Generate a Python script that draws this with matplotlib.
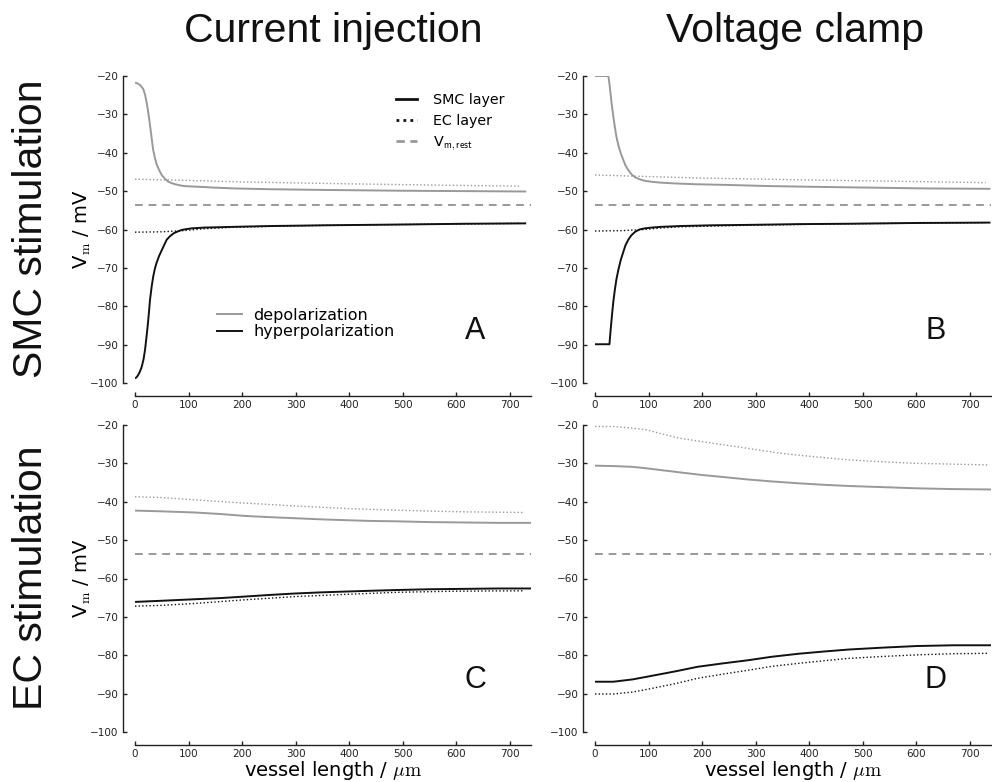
import matplotlib
matplotlib.use("Agg")
import matplotlib.pyplot as plt
from matplotlib.lines import Line2D

plt.rcParams['font.family'] = ['DejaVu Sans']
plt.rcParams['mathtext.fontset'] = 'cm'
plt.rcParams['axes.unicode_minus'] = True

GREY = '#999999'
BLACK = '#111111'
V_REST = -53.6

# ---------------- Panel A : SMC stimulation, current injection ----------------
a_smc_dep_x = [0, 4, 9, 13, 16, 19, 22, 24, 26, 28, 30, 32, 34, 37, 40, 45, 50, 56, 62, 68, 75, 84, 93, 108, 124, 150, 187, 250, 358, 500, 620, 731]
a_smc_dep_y = [-21.7, -21.9, -22.3, -22.9, -23.6, -25.0, -27.1, -28.8, -30.6, -32.8, -34.9, -37.2, -39.3, -41.2, -42.8, -44.5, -45.8, -46.8, -47.5, -47.9, -48.2, -48.5, -48.7, -48.8, -48.9, -49.1, -49.3, -49.5, -49.7, -49.9, -50.0, -50.1]
a_ec_dep_x = [0, 100, 200, 400, 600, 718]
a_ec_dep_y = [-46.9, -47.2, -47.6, -48.1, -48.5, -48.7]
a_smc_hyp_x = [0, 3, 6, 9, 12.5, 16, 18.7, 21, 23.6, 26, 28, 31, 34, 37, 40, 45, 50, 55, 59, 65, 72, 80, 87.5, 96, 106, 130, 187, 250, 358, 500, 620, 731]
a_smc_hyp_y = [-98.8, -98.5, -97.9, -97.1, -95.8, -93.8, -91.4, -88.6, -85.3, -81.7, -78.4, -75.0, -72.3, -70.3, -68.8, -66.9, -65.4, -63.9, -62.7, -61.8, -61.0, -60.5, -60.1, -59.9, -59.7, -59.5, -59.3, -59.1, -58.9, -58.7, -58.5, -58.4]
a_ec_hyp_x = [0, 50, 90, 130, 187, 250, 358, 500, 718]
a_ec_hyp_y = [-60.7, -60.6, -60.3, -59.8, -59.4, -59.2, -58.9, -58.7, -58.4]

# ---------------- Panel B : SMC stimulation, voltage clamp ----------------
b_smc_dep_x = [0, 25, 27, 29, 31, 34, 37, 40, 43.5, 48, 53, 57, 62, 68, 75, 83, 93, 108, 124, 150, 187, 250, 330, 420, 520, 620, 739]
b_smc_dep_y = [-20.0, -20.0, -22.0, -24.6, -27.1, -30.3, -33.2, -35.8, -38.0, -40.1, -41.9, -43.3, -44.5, -45.6, -46.4, -46.9, -47.3, -47.6, -47.8, -48.0, -48.2, -48.4, -48.7, -48.9, -49.1, -49.3, -49.4]
b_ec_dep_x = [0, 100, 200, 400, 600, 730]
b_ec_dep_y = [-45.8, -46.2, -46.6, -47.1, -47.5, -47.8]
b_smc_hyp_x = [0, 27, 29, 32, 34.5, 37, 40, 43.5, 48, 53, 57, 62, 68, 75, 83, 93, 106, 124, 159, 220, 285, 380, 474, 600, 739]
b_smc_hyp_y = [-89.9, -89.9, -86.5, -81.9, -78.5, -75.8, -73.0, -70.6, -68.0, -65.8, -64.1, -62.7, -61.5, -60.6, -60.0, -59.7, -59.5, -59.3, -59.1, -58.9, -58.8, -58.6, -58.5, -58.3, -58.2]
b_ec_hyp_x = [0, 50, 93, 124, 159, 285, 474, 730]
b_ec_hyp_y = [-60.4, -60.3, -60.0, -59.6, -59.3, -58.9, -58.5, -58.2]

# ---------------- Panel C : EC stimulation, current injection ----------------
c_smc_dep_x = [0, 50, 112, 160, 206, 250, 300, 350, 394, 440, 489, 550, 615, 680, 741]
c_smc_dep_y = [-42.3, -42.5, -42.8, -43.2, -43.7, -44.0, -44.3, -44.6, -44.8, -45.0, -45.1, -45.3, -45.4, -45.5, -45.5]
c_ec_dep_x = [0, 50, 112, 200, 300, 400, 489, 600, 728]
c_ec_dep_y = [-38.7, -38.9, -39.5, -40.3, -41.1, -41.8, -42.2, -42.6, -42.8]
c_smc_hyp_x = [0, 50, 112, 160, 206, 250, 300, 350, 394, 440, 489, 550, 615, 680, 741]
c_smc_hyp_y = [-66.1, -65.8, -65.4, -65.1, -64.7, -64.3, -63.9, -63.6, -63.4, -63.2, -63.0, -62.8, -62.7, -62.6, -62.6]
c_ec_hyp_x = [0, 50, 112, 200, 300, 400, 489, 600, 728]
c_ec_hyp_y = [-67.2, -67.0, -66.5, -65.6, -64.7, -64.1, -63.6, -63.3, -63.2]

# ---------------- Panel D : EC stimulation, voltage clamp ----------------
d_smc_dep_x = [0, 34, 70, 97, 150, 198, 250, 286, 330, 381, 430, 475, 540, 601, 670, 740]
d_smc_dep_y = [-30.6, -30.7, -30.9, -31.3, -32.2, -33.0, -33.7, -34.2, -34.7, -35.2, -35.6, -35.9, -36.2, -36.5, -36.7, -36.8]
d_ec_dep_x = [0, 34, 70, 97, 130, 160, 223, 286, 349, 412, 475, 538, 601, 670, 734]
d_ec_dep_y = [-20.4, -20.4, -20.8, -21.3, -22.5, -23.5, -24.8, -26.1, -27.4, -28.3, -29.1, -29.6, -30.0, -30.2, -30.4]
d_smc_hyp_x = [0, 34, 70, 97, 150, 192, 240, 286, 330, 381, 430, 475, 540, 601, 670, 740]
d_smc_hyp_y = [-86.9, -86.9, -86.3, -85.6, -84.2, -83.0, -82.1, -81.3, -80.4, -79.6, -79.0, -78.5, -78.0, -77.6, -77.4, -77.4]
d_ec_hyp_x = [0, 34, 70, 97, 150, 192, 240, 286, 330, 381, 430, 475, 540, 601, 670, 734]
d_ec_hyp_y = [-90.1, -90.1, -89.6, -88.9, -87.4, -86.0, -84.9, -83.9, -82.9, -82.1, -81.4, -80.8, -80.3, -79.9, -79.6, -79.5]

col_titles = ['Current injection', 'Voltage clamp']
row_titles = ['SMC stimulation', 'EC stimulation']
panel_letters = ['A', 'B', 'C', 'D']
x_ticks = [0, 100, 200, 300, 400, 500, 600, 700]
y_ticks = [-100, -90, -80, -70, -60, -50, -40, -30, -20]

panels = [
    (a_smc_dep_x, a_smc_dep_y, a_ec_dep_x, a_ec_dep_y, a_smc_hyp_x, a_smc_hyp_y, a_ec_hyp_x, a_ec_hyp_y),
    (b_smc_dep_x, b_smc_dep_y, b_ec_dep_x, b_ec_dep_y, b_smc_hyp_x, b_smc_hyp_y, b_ec_hyp_x, b_ec_hyp_y),
    (c_smc_dep_x, c_smc_dep_y, c_ec_dep_x, c_ec_dep_y, c_smc_hyp_x, c_smc_hyp_y, c_ec_hyp_x, c_ec_hyp_y),
    (d_smc_dep_x, d_smc_dep_y, d_ec_dep_x, d_ec_dep_y, d_smc_hyp_x, d_smc_hyp_y, d_ec_hyp_x, d_ec_hyp_y),
]

W, H = 992, 782
fig = plt.figure(figsize=(W / 100, H / 100), dpi=100)

lefts = [135 / W, 595 / W]
width = 396 / W
tops = [76, 425]
height = 307 / H

axes = []
for r in range(2):
    for c in range(2):
        ax = fig.add_axes([lefts[c], 1 - (tops[r] + 307) / H, width, height])
        axes.append(ax)

for i, ax in enumerate(axes):
    sdx, sdy, edx, edy, shx, shy, ehx, ehy = panels[i]
    ax.plot(sdx, sdy, color=GREY, lw=1.4, solid_capstyle='butt', solid_joinstyle='round')
    ax.plot(edx, edy, color=GREY, lw=1.0, ls=(0, (1, 1.6)))
    ax.plot(shx, shy, color=BLACK, lw=1.4, solid_capstyle='butt', solid_joinstyle='round')
    ax.plot(ehx, ehy, color=BLACK, lw=1.0, ls=(0, (1, 1.6)))
    ax.axhline(V_REST, color=GREY, lw=1.4, ls=(0, (4, 3)))
    ax.set_xlim(0, 740)
    ax.set_ylim(-100, -20)
    ax.set_xticks(x_ticks)
    ax.set_yticks(y_ticks)
    for s in ['top', 'right']:
        ax.spines[s].set_visible(False)
    ax.spines['left'].set_position(('outward', 9))
    ax.spines['bottom'].set_position(('outward', 9))
    ax.spines['left'].set_color('#222222')
    ax.spines['bottom'].set_color('#222222')
    ax.spines['left'].set_linewidth(1.0)
    ax.spines['bottom'].set_linewidth(1.0)
    ax.tick_params(direction='in', length=3, width=1, labelsize=7.5,
                   colors='#222222', pad=3)
    ax.text(0.86, 0.17, panel_letters[i], transform=ax.transAxes,
            fontsize=22, ha='center', va='center', color=BLACK,
            family='Liberation Sans')
    if i % 2 == 0:
        ax.set_ylabel(r'V$_\mathrm{m}$ / mV', fontsize=14, labelpad=-2)
    if i >= 2:
        ax.set_xlabel(r'vessel length / $\mu\mathrm{m}$', fontsize=14, labelpad=0)

# legends in panel A
ax = axes[0]
h1 = [Line2D([], [], color=BLACK, lw=2.0),
      Line2D([], [], color=BLACK, lw=2.0, ls=(0, (1, 1.5))),
      Line2D([], [], color=GREY, lw=2.0, ls=(0, (3, 2)))]
leg1 = ax.legend(h1, ['SMC layer', 'EC layer', r'V$_\mathsf{m,rest}$'],
                 loc='upper right', bbox_to_anchor=(0.965, 0.985), frameon=False,
                 fontsize=10.3, handlelength=1.5, handletextpad=1.1, labelspacing=0.45)
ax.add_artist(leg1)
h2 = [Line2D([], [], color=GREY, lw=1.4),
      Line2D([], [], color=BLACK, lw=1.4)]
ax.legend(h2, ['depolarization', 'hyperpolarization'], loc='lower left',
          bbox_to_anchor=(0.17, 0.095), frameon=False, fontsize=11.5,
          handlelength=1.6, handletextpad=0.7, labelspacing=0.1)

# column and row titles
fig.text(333 / W, 1 - 31 / H, col_titles[0], fontsize=29.5, ha='center', va='center',
         family='Liberation Sans', color=BLACK)
fig.text(795 / W, 1 - 31 / H, col_titles[1], fontsize=29.5, ha='center', va='center',
         family='Liberation Sans', color=BLACK)
fig.text(31 / W, 1 - 229 / H, row_titles[0], fontsize=29.5, ha='center', va='center',
         rotation=90, family='Liberation Sans', color=BLACK)
fig.text(31 / W, 1 - 578 / H, row_titles[1], fontsize=29.5, ha='center', va='center',
         rotation=90, family='Liberation Sans', color=BLACK)

fig.savefig('out.png', dpi=100)
